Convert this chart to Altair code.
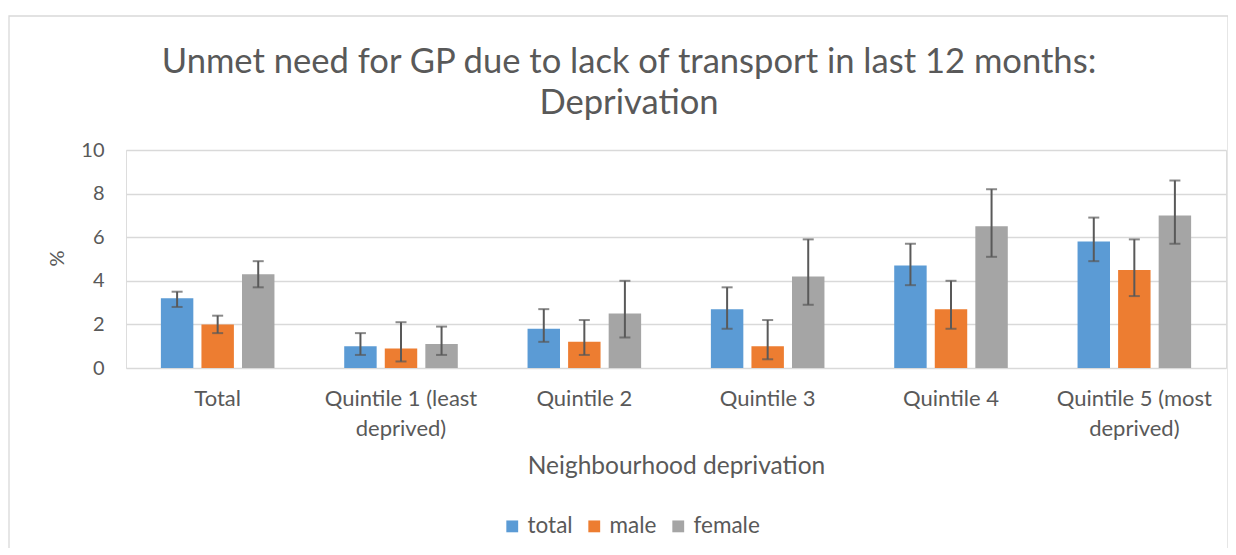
import altair as alt
import pandas as pd

categories = ["Total", "Quintile 1 (least deprived)", "Quintile 2", "Quintile 3",
              "Quintile 4", "Quintile 5 (most deprived)"]
series = ["total", "male", "female"]

total_val = [3.2, 1.0, 1.8, 2.7, 4.7, 5.8]
total_lo = [2.8, 0.6, 1.2, 1.8, 3.8, 4.9]
total_hi = [3.5, 1.6, 2.7, 3.7, 5.7, 6.9]

male_val = [2.0, 0.9, 1.2, 1.0, 2.7, 4.5]
male_lo = [1.6, 0.3, 0.6, 0.4, 1.8, 3.3]
male_hi = [2.4, 2.1, 2.2, 2.2, 4.0, 5.9]

female_val = [4.3, 1.1, 2.5, 4.2, 6.5, 7.0]
female_lo = [3.7, 0.6, 1.4, 2.9, 5.1, 5.7]
female_hi = [4.9, 1.9, 4.0, 5.9, 8.2, 8.6]

colors = ["#5B9BD5", "#ED7D31", "#A5A5A5"]

rows = []
for s, v, lo, hi in [("total", total_val, total_lo, total_hi),
                     ("male", male_val, male_lo, male_hi),
                     ("female", female_val, female_lo, female_hi)]:
    for c, a, b, d in zip(categories, v, lo, hi):
        rows.append({"category": c, "series": s, "value": a, "lo": b, "hi": d})
df = pd.DataFrame(rows)

FONT = "Lato"
TXT = "#595959"

label_expr = ("datum.label == 'Quintile 1 (least deprived)' ? ['Quintile 1 (least', 'deprived)'] : "
              "datum.label == 'Quintile 5 (most deprived)' ? ['Quintile 5 (most', 'deprived)'] : datum.label")

x_enc = alt.X("category:N", sort=categories, title="Neighbourhood deprivation",
              scale=alt.Scale(paddingInner=0, paddingOuter=0),
              axis=alt.Axis(labelAngle=0, labelExpr=label_expr, labelFontSize=22,
                            labelLineHeight=30, labelPadding=20, labelColor=TXT,
                            labelFont=FONT, ticks=False, domain=False, grid=False,
                            titleFont=FONT, titleFontSize=24.5, titleColor=TXT,
                            titleFontWeight="normal", titleY=98, titleBaseline="middle"))
xo_enc = alt.XOffset("series:N", sort=series,
                     scale=alt.Scale(paddingInner=0.2, paddingOuter=0.86))

base = alt.Chart(df)

bars = base.mark_bar().encode(
    x=x_enc,
    xOffset=xo_enc,
    y=alt.Y("value:Q", title="%",
            scale=alt.Scale(domain=[0, 10]),
            axis=alt.Axis(values=[0, 2, 4, 6, 8, 10], ticks=False, domain=False,
                          gridColor="#D9D9D9", gridWidth=1.3, labelFontSize=20,
                          labelColor=TXT, labelFont=FONT, labelPadding=22,
                          titleFont=FONT, titleFontSize=20, titleColor=TXT,
                          titleFontWeight="normal", titleX=-69, titleY=108,
                          titleAngle=-90, titleBaseline="middle", titleAlign="center")),
    color=alt.Color("series:N", sort=series,
                    scale=alt.Scale(domain=series, range=colors),
                    legend=alt.Legend(title=None, orient="none", direction="horizontal",
                                      legendX=375, legendY=365, symbolType="square",
                                      symbolSize=140, symbolStrokeWidth=0,
                                      labelFont=FONT, labelFontSize=22.5, labelColor=TXT,
                                      columnPadding=10, labelOffset=4)),
)

rules = base.mark_rule(color="#595959", strokeWidth=2).encode(
    x=alt.X("category:N", sort=categories),
    xOffset=alt.XOffset("series:N", sort=series),
    y="lo:Q",
    y2="hi:Q",
)

caps_hi = base.mark_tick(color="#595959", thickness=2, size=11).encode(
    x=alt.X("category:N", sort=categories),
    xOffset=alt.XOffset("series:N", sort=series),
    y="hi:Q",
)
caps_lo = base.mark_tick(color="#595959", thickness=2, size=11).encode(
    x=alt.X("category:N", sort=categories),
    xOffset=alt.XOffset("series:N", sort=series),
    y="lo:Q",
)

border = alt.Chart(pd.DataFrame({"a": [0]})).mark_rect(
    fill=None, stroke="#D9D9D9", strokeWidth=1.3
).encode(
    x=alt.value(-117), x2=alt.value(1102), y=alt.value(-134), y2=alt.value(430)
)

chart = alt.layer(border, bars, rules, caps_hi, caps_lo).properties(
    width=1100, height=218,
    title=alt.TitleParams(
        text=["Unmet need for GP due to lack of transport in last 12 months:", "Deprivation"],
        font=FONT, fontSize=34.6, fontWeight="normal", color=TXT, anchor="middle",
        lineHeight=41, offset=-106, frame="group", dx=-47,
    ),
    autosize=alt.AutoSizeParams(type="none"),
    padding={"left": 118, "top": 142, "right": 2, "bottom": 180},
).configure_view(stroke=None).configure(background="white")

chart.save("out.html", embed_options={"renderer": "svg", "actions": False})
